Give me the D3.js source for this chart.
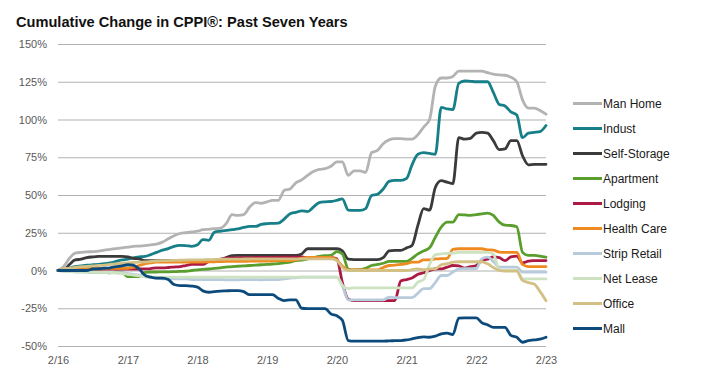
<!DOCTYPE html>
<html>
<head>
<meta charset="utf-8">
<script src="https://cdn.jsdelivr.net/npm/d3@7"></script>
<style>
  html, body { margin: 0; padding: 0; background: #fff; }
  svg { display: block; font-family: "Liberation Sans", Arial, sans-serif; }
</style>
</head>
<body>
<svg id="chart" width="722" height="386"></svg>
<script>
// ---- Data (monthly, Feb 2016 .. Feb 2023), cumulative % change ----
const startMonth = "2016-02-01";
const endMonth = "2023-02-01";
const yTicks = [-50, -25, 0, 25, 50, 75, 100, 125, 150];
const xTickLabels = ["2/16", "2/17", "2/18", "2/19", "2/20", "2/21", "2/22", "2/23"];
const seriesNames = ["Man Home", "Indust", "Self-Storage", "Apartment", "Lodging", "Health Care", "Strip Retail", "Net Lease", "Office", "Mall"];
const seriesColors = ["#b3b3b3", "#167f88", "#3a3a3a", "#5a9e2d", "#ab1a43", "#ef8a21", "#b8cbdd", "#cde2c1", "#d3c084", "#0c4a7c"];

const manHome = [0, 2.5, 8, 11.5, 12, 12.3, 12.5, 12.8, 13.5, 14, 14.5, 15, 15.5, 16, 16.2, 16.5, 17, 17.5, 18.8, 21, 23, 24.5, 25, 25.5, 26, 27, 27.3, 27.7, 28, 31, 37, 36.5, 37, 42, 45, 44.5, 45.5, 46.4, 46.5, 53, 54, 58, 60, 63, 65.5, 67, 67.4, 69, 72, 72, 63, 66, 66, 65, 78, 79.5, 84, 86.5, 87.3, 87.3, 87, 87, 90, 95, 100, 122, 127.5, 127.5, 128.5, 132, 132, 132, 132, 132, 131, 130, 129.5, 129.3, 128, 125, 113, 107.5, 107.5, 106, 103.5];
const indust = [0, 0.5, 1.5, 2.5, 3, 3.5, 3.8, 4, 4.5, 5, 6, 7, 7.5, 8.4, 9, 9.3, 10.5, 12, 13.5, 14.5, 16, 16.6, 16.5, 16, 17, 20.5, 20, 25.4, 26, 26.5, 27, 27.6, 28.5, 29.2, 29.2, 30.5, 31, 31.2, 31.4, 34, 37.6, 38.5, 39.5, 39, 42, 45, 45.5, 45.7, 46.5, 47.5, 40, 39.8, 39.8, 41, 49.7, 50.5, 54, 59, 59.7, 59.7, 61, 70, 77, 78, 77.5, 77, 108, 107, 106.5, 124, 125.5, 125.3, 125, 125, 125, 118, 110, 109, 105, 103, 88, 91, 91.5, 92, 96];
const selfStorage = [0, 0, 4, 7, 7.5, 8.5, 9, 9.3, 9.3, 9.3, 9.3, 9.3, 9, 8, 7.7, 6.6, 6.6, 6.6, 6.6, 6.6, 6.6, 6.6, 6.6, 6.6, 6.6, 6.6, 6.6, 6.6, 6.6, 8.5, 9.8, 10, 10, 10, 10, 10, 10, 10, 10, 10, 10, 10, 11, 14.4, 14.4, 14.4, 14.4, 14.4, 14.4, 13, 7.5, 7.2, 7.2, 7.2, 7.2, 7.2, 8.5, 13, 13.3, 13.3, 15, 16.6, 30, 41, 40, 55, 59.5, 58.5, 57.5, 88, 87, 87.5, 91, 91.5, 91, 86, 80, 80.5, 86, 86, 76, 70, 70.3, 70.3, 70.3];
const apartment = [0, 0, -0.3, -0.5, -0.5, -0.8, -1, -1, -1.2, -1.5, -1, -1.2, -4, -4, -4, -1.2, -1, -1, -0.9, -0.9, -0.8, -0.6, -0.5, 0, 0.4, 0.7, 1, 1.4, 1.8, 2.2, 2.6, 2.8, 3, 3.3, 3.5, 3.8, 4, 4.3, 4.5, 5, 5.5, 6.6, 6.8, 7.7, 8.5, 9.3, 9.8, 10, 12.5, 11, 1, 0.4, 0.5, 1.5, 3.3, 4, 4.8, 6, 6, 6, 6, 8, 11, 13, 15, 22, 28.7, 32, 32, 37, 36.8, 36.5, 37, 37.5, 38, 36.5, 32, 30, 29.8, 29, 12, 10, 10, 9.5, 8.8];
const lodging = [0, 0.5, 0.8, 0.8, 0.8, 1, 1, 1, 1, 1, 1, 1, 1, 1, 1, 1.1, 1.3, 1.8, 1.8, 2, 2.3, 2.6, 3.3, 4, 4, 4, 6, 6.6, 7.5, 8.2, 8.4, 8.4, 8.5, 8.5, 8.6, 8.6, 8.7, 8.7, 8.8, 8.8, 8.8, 8.8, 9, 8.5, 8.5, 8.5, 8.5, 8.5, 7.7, -8, -19, -19.9, -19.9, -19.9, -19.9, -19.9, -19.9, -19.9, -19.9, -7, -6, -5, -2.5, -1.5, 0, 1, 1.1, 2.2, 3.3, 3, 1.5, 2.5, 3.3, 6.6, 7.5, 9, 8.5, 6.6, 9, 9.5, 5, 6.2, 6.5, 6.6, 6.6];
const healthCare = [0, 0.5, 0.8, 1, 1, 1, 1.2, 1.2, 1.3, 1.4, 1.5, 1.5, 1.5, 2, 3.3, 4.4, 5, 5.5, 5.5, 5.5, 5.5, 5.5, 5.5, 5.5, 5.5, 5.6, 5.7, 5.8, 5.9, 6, 6, 6, 6.1, 6.2, 6.2, 6.3, 6.3, 6.4, 6.5, 6.5, 6.5, 7, 8, 8.6, 8.6, 8.6, 8.6, 8.6, 7, 3, 0.4, 0.4, 0.4, 0.4, 0.4, 0.4, 2, 3.3, 3.5, 4, 4.5, 5.5, 5.5, 7, 7, 7.7, 7.8, 8, 14, 14.4, 14.4, 14.4, 14.4, 14.4, 13.7, 13.5, 12.2, 12, 12, 12, 4, 2.6, 2.6, 2.6, 2.6];
const stripRetail = [0, -0.5, -0.5, -1, -1, -1, -1.2, -1.2, -1.3, -1.4, -1.5, -1.5, -2, -2.5, -3, -4, -4.5, -5, -5.5, -5.5, -5.5, -5.5, -5.5, -6, -6, -6, -6, -6, -6, -6.2, -6.2, -6.2, -6, -6, -6, -6.2, -6, -6, -6, -5.5, -5, -4.8, -4.4, -4.4, -4.4, -4.4, -4.4, -4.4, -4.4, -10, -19.4, -19.4, -19.4, -19.4, -19.4, -19.4, -19.4, -17.7, -18, -18, -18, -18, -15, -12, -12, -8, -3.3, -3.3, -1, 1.1, 1.3, 1.3, 1.3, 7.7, 8.8, 6, 2.2, 2.2, 2.2, 2.2, -1.1, -1.1, -1.1, -1.1, -1.1];
const netLease = [0, -0.5, -0.6, -0.8, -0.8, -1, -1, -1.2, -1.2, -1.3, -1.5, -2, -2.5, -3, -3.5, -4, -4.4, -4.4, -4.4, -4.4, -4.4, -4.4, -4.4, -4.4, -4.4, -4.4, -4.4, -4.4, -4.4, -4.4, -4.4, -4.4, -4.4, -4.4, -4.4, -4.4, -4.4, -4.4, -4.4, -4.4, -4.4, -4.4, -4.4, -4.4, -4.4, -4.4, -4.4, -4.4, -4.4, -10, -12, -11.5, -11.5, -11.5, -11.5, -11.5, -11.5, -11.5, -11.5, -11.5, -11.5, -11.5, -7.7, -6, 4, 10.5, 11, 11.3, 11.5, 12, 12, 12, 12, 12, 12, 11, 0.5, 0, 0, 0, -5.5, -5.5, -5.5, -5.5, -5.5];
const office = [0, 1, 1.5, 2, 2.5, 2.8, 3, 3.3, 3.6, 4, 4.4, 4.8, 5, 5.3, 5.5, 5.7, 6, 6.3, 6.6, 6.6, 6.7, 6.8, 6.9, 7, 7, 7.1, 7.2, 7.3, 7.4, 7.5, 7.5, 7.5, 7.6, 7.6, 7.7, 7.7, 7.7, 7.7, 7.7, 7.7, 7.7, 7.7, 7.7, 7.7, 7.7, 7.7, 7.7, 7.7, 6.6, 2, 0, 0, 0, 0, 0, 0, 0, 0, 0, 0, 0, 0.5, 1, 0.5, 1, 1.1, 3.8, 4.5, 5.5, 5.8, 5.8, 5.8, 5.8, 5.8, 4.4, 2, 0, -0.4, -0.4, -0.4, -6.6, -8, -9, -14, -20];
const mall = [0, 0, 0, 0, 0, 0, 1, 1.2, 1.5, 1.8, 2.5, 3, 3.8, 3.5, 1, -3, -4.4, -5, -5, -6, -9.3, -10, -10, -10.3, -11, -13.5, -14.4, -14, -13.7, -13.5, -13.3, -13.3, -14, -16, -16, -16, -16, -16, -18.5, -19.9, -19.5, -19.4, -25, -25.2, -25.2, -25.2, -25.2, -28.7, -30, -33, -46.4, -46.8, -46.8, -46.8, -46.8, -46.8, -46.8, -46.6, -46.5, -46.4, -46, -45.3, -44.5, -44, -44.2, -43.5, -42, -41.5, -42.4, -31.5, -31.4, -31.4, -31.4, -34.5, -36, -37.6, -37.6, -37.6, -43, -44.2, -47.5, -46.4, -46, -45.5, -44.2];

const seriesValues = [manHome, indust, selfStorage, apartment, lodging, healthCare, stripRetail, netLease, office, mall];

// ---- Build ----
const parse = d3.timeParse("%Y-%m-%d");
const months = d3.timeMonth.range(parse(startMonth), d3.timeMonth.offset(parse(endMonth), 1));

const svg = d3.select("#chart");
const margin = { left: 58, right: 546, top: 44, bottom: 346 };

const x = d3.scaleTime().domain([parse(startMonth), parse(endMonth)]).range([margin.left, margin.right]);
const y = d3.scaleLinear().domain([-50, 150]).range([margin.bottom, margin.top]);

// Title
svg.append("text")
  .attr("x", 16).attr("y", 27)
  .attr("font-size", 14.6).attr("font-weight", "bold").attr("fill", "#111")
  .text("Cumulative Change in CPPI®: Past Seven Years");

// Y axis with gridlines
const yAxis = d3.axisLeft(y)
  .tickValues(yTicks)
  .tickSize(-(margin.right - margin.left))
  .tickPadding(11)
  .tickFormat(d => d + "%");
const gy = svg.append("g").attr("transform", `translate(${margin.left},0)`).call(yAxis);
gy.select(".domain").remove();
gy.selectAll(".tick line").attr("stroke", "#b2b2b2").attr("stroke-width", 1.2);
gy.selectAll(".tick text").attr("font-size", 11).attr("fill", "#595959").attr("font-family", "Liberation Sans, Arial, sans-serif");

// X axis labels
const xTickDates = xTickLabels.map((_, i) => d3.timeYear.offset(parse(startMonth), i));
const xAxis = d3.axisBottom(x)
  .tickValues(xTickDates)
  .tickSize(0)
  .tickPadding(10)
  .tickFormat((d, i) => xTickLabels[i]);
const gx = svg.append("g").attr("transform", `translate(0,${margin.bottom})`).call(xAxis);
gx.select(".domain").remove();
gx.selectAll(".tick text").attr("font-size", 11).attr("fill", "#595959").attr("font-family", "Liberation Sans, Arial, sans-serif");

// Lines
const line = d3.line()
  .x((d, i) => x(months[i]))
  .y(d => y(d))
  .curve(d3.curveMonotoneX);

svg.append("g").selectAll("path")
  .data(seriesValues)
  .join("path")
  .attr("d", d => line(d))
  .attr("fill", "none")
  .attr("stroke", (d, i) => seriesColors[i])
  .attr("stroke-width", 2.8)
  .attr("stroke-linejoin", "round")
  .attr("stroke-linecap", "round");

// Legend
const legend = svg.append("g");
const legendRow = d3.scaleLinear().domain([0, 1]).range([103.5, 128.5]);
seriesNames.forEach((name, i) => {
  const g = legend.append("g").attr("transform", `translate(573,${legendRow(i)})`);
  g.append("line").attr("x1", 0).attr("x2", 29).attr("y1", 0).attr("y2", 0)
    .attr("stroke", seriesColors[i]).attr("stroke-width", 3);
  g.append("text").attr("x", 30).attr("y", 4.5)
    .attr("font-size", 12).attr("fill", "#1a1a1a").text(name);
});
</script>
</body>
</html>
